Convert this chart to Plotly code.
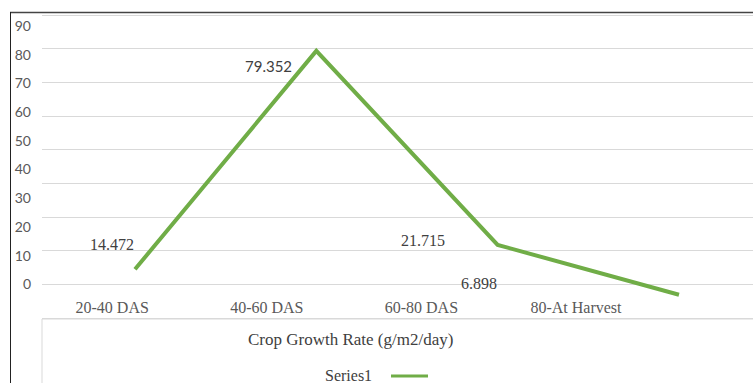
import plotly.graph_objects as go

# Crop growth rate per growth stage
stages = ["20-40 DAS", "40-60 DAS", "60-80 DAS", "80-At Harvest"]
cgr = [14.472, 79.352, 21.715, 6.898]
y_ticks = [0, 10, 20, 30, 40, 50, 60, 70, 80, 90]
series_name = "Series1"
x_title = "Crop Growth Rate (g/m2/day)"

W, H = 753, 383
GREEN = "#70AD47"
GRID = "#D9D9D9"

# plot area in pixels (value 0 at `bottom`, value 90 at `top`)
left, top, bottom = 42, 15, 318
pad = 1.5  # extra pixels so the edge gridlines are drawn
unit = (bottom - top) / 90.0


def px_x(p):
    return p / W


def px_y(p):
    return 1 - p / H


# value-label offsets (pixels) relative to each point, and fonts
label_shift = [(-23, 25), (-48, -15), (-75, 4), (-200, 11)]
label_font = ["Liberation Serif", "Lato", "Liberation Serif", "Liberation Serif"]
label_size = [16, 15, 16, 16]

fig = go.Figure()

fig.add_trace(go.Scatter(
    x=stages, y=cgr, mode="lines", name=series_name,
    line=dict(color=GREEN, width=4),
    xaxis="x", yaxis="y", hoverinfo="x+y",
))

# carrier trace for the category/tick-label axes
fig.add_trace(go.Scatter(
    x=stages, y=[None] * len(stages), mode="markers",
    xaxis="x2", yaxis="y2", showlegend=False, hoverinfo="skip",
    marker=dict(opacity=0),
))

for i, (s, v) in enumerate(zip(stages, cgr)):
    dx, dy = label_shift[i]
    fig.add_annotation(
        x=s, y=v, xref="x", yref="y", text=f"{v:.3f}",
        showarrow=False, xshift=dx, yshift=dy,
        font=dict(family=label_font[i], size=label_size[i], color="#404040"),
    )

# axis title and legend entry
fig.add_annotation(
    x=px_x(350), y=px_y(339), xref="paper", yref="paper",
    text=x_title, showarrow=False, xanchor="center", yanchor="middle",
    font=dict(family="Liberation Serif", size=17, color="#404040"),
)
fig.add_annotation(
    x=px_x(374), y=px_y(375), xref="paper", yref="paper",
    text=series_name, showarrow=False, xanchor="right", yanchor="middle",
    font=dict(family="Liberation Serif", size=16, color="#404040"),
)

shapes = [
    # legend sample line
    dict(type="line", xref="paper", yref="paper",
         x0=px_x(391), x1=px_x(428), y0=px_y(376), y1=px_y(376),
         line=dict(color=GREEN, width=3)),
    # lower box under the plot area
    dict(type="line", xref="paper", yref="paper",
         x0=px_x(left), x1=1, y0=px_y(bottom + 1), y1=px_y(bottom + 1),
         line=dict(color=GRID, width=1)),
    dict(type="line", xref="paper", yref="paper",
         x0=px_x(left), x1=px_x(left), y0=px_y(bottom + 1), y1=0,
         line=dict(color=GRID, width=1)),
    # outer frame
    dict(type="line", xref="paper", yref="paper",
         x0=px_x(10), x1=1, y0=px_y(12.5), y1=px_y(12.5),
         line=dict(color="#444444", width=1.5)),
    dict(type="line", xref="paper", yref="paper",
         x0=px_x(10.5), x1=px_x(10.5), y0=px_y(12), y1=0,
         line=dict(color="#222222", width=1)),
]

# pixel scales for the axes
pt_x0, pt_dx = 135, 181.33      # line points
cat_x0, cat_dx = 112.2, 154.6   # category labels
lab_y0, lab_dy = 284.4, 2.872   # y tick labels (px per unit)

y_top_px, y_bot_px = top - pad, bottom + pad

fig.update_layout(
    width=W, height=H,
    margin=dict(l=0, r=0, t=0, b=0),
    paper_bgcolor="white", plot_bgcolor="white",
    showlegend=False,
    shapes=shapes,
    xaxis=dict(
        domain=[px_x(left), 1], type="category", categoryarray=stages,
        range=[-(pt_x0 - left) / pt_dx, (W - pt_x0) / pt_dx],
        showticklabels=False, showgrid=False, zeroline=False, showline=False,
        ticks="", automargin=False,
    ),
    yaxis=dict(
        domain=[px_y(y_bot_px), px_y(y_top_px)],
        range=[-pad / unit, 90 + pad / unit], tickvals=y_ticks,
        showticklabels=False, showgrid=True, gridcolor=GRID, gridwidth=1,
        zeroline=False, showline=False, ticks="", automargin=False,
    ),
    xaxis2=dict(
        overlaying="x", anchor="free", position=px_y(296), side="bottom",
        type="category", categoryarray=stages,
        range=[-(cat_x0 - left) / cat_dx, (W - cat_x0) / cat_dx],
        tickvals=stages, ticktext=stages,
        tickfont=dict(family="Liberation Serif", size=16, color="#595959"),
        showgrid=False, zeroline=False, showline=False, ticks="",
        automargin=False,
    ),
    yaxis2=dict(
        overlaying="y", anchor="free", position=px_x(31), side="left",
        range=[-(y_bot_px - lab_y0) / lab_dy, (lab_y0 - y_top_px) / lab_dy],
        tickvals=y_ticks, ticktext=[str(t) for t in y_ticks],
        tickfont=dict(family="Lato", size=14, color="#595959"),
        showgrid=False, zeroline=False, showline=False, ticks="",
        automargin=False,
    ),
)

fig.write_html("out.html")
